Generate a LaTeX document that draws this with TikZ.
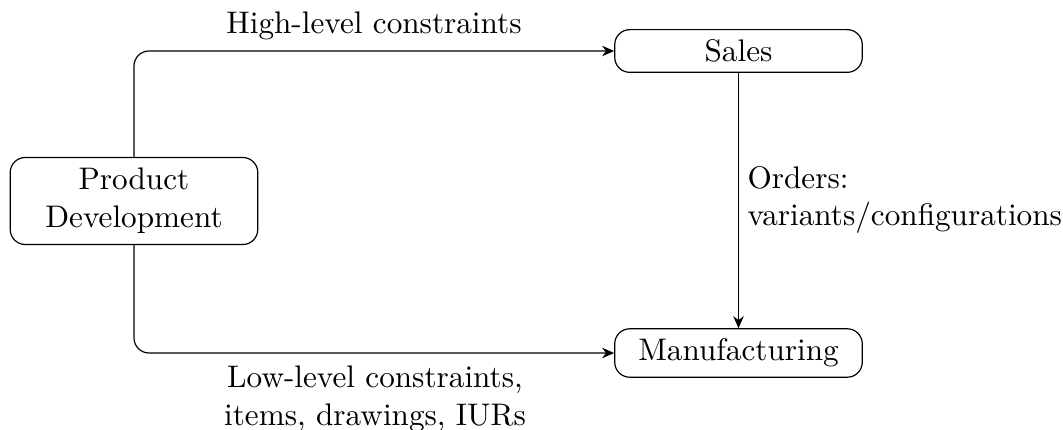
\documentclass[tikz,border=0pt]{standalone}
\usetikzlibrary{arrows.meta}
\begin{document}
\begin{tikzpicture}[x=0.3333pt, y=-0.3333pt,
  every node/.style={font=\fontsize{10.4}{12.6}\selectfont},
  box/.style={draw, rounded corners=5pt, minimum width=82.5pt, align=center, thin},
  link/.style={-{Stealth[length=4pt,width=3.5pt]}, rounded corners=5pt, thin},
  lbl/.style={align=center, inner sep=0pt}]
\useasboundingbox (0,0) rectangle (1063,430);
\node[box, minimum height=29pt] (pd) at (134,201) {Product\\Development};
\node[box] (sales) at (738.5,51) {Sales};
\node[box] (mfg) at (738.5,353) {Manufacturing};
\draw[link] (pd.north) |- (sales.west);
\draw[link] (pd.south) |- (mfg.west);
\draw[link] (sales.south) -- (mfg.north);
\node[lbl] (hl) at (374,26) {High-level constraints};
\node[lbl, anchor=north] (ll) at (375,365) {Low-level constraints,\\items, drawings, IURs};
\node[lbl, align=left, anchor=west] (ord) at (747,200) {Orders:\\variants/configurations};
\end{tikzpicture}
\end{document}
